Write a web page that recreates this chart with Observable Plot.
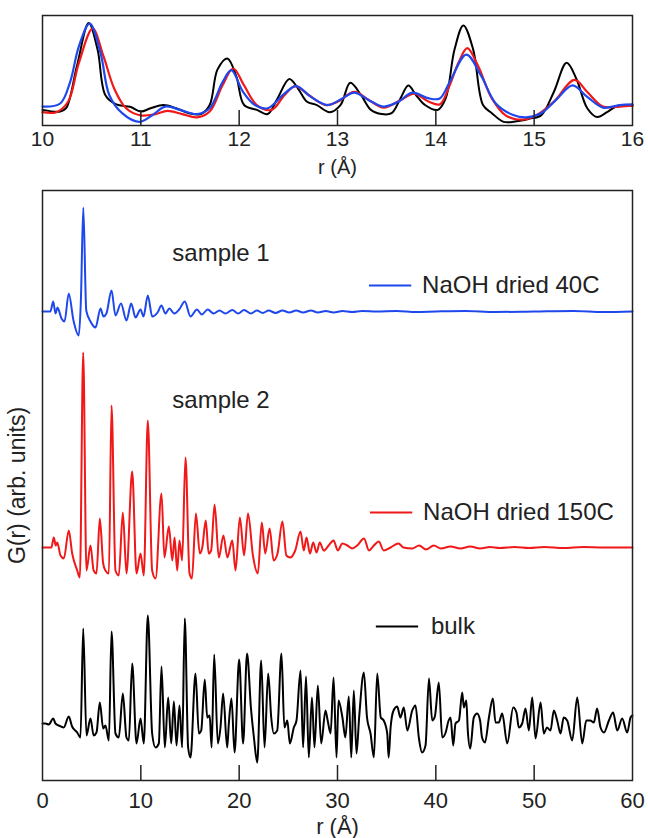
<!DOCTYPE html>
<html><head><meta charset="utf-8">
<script src="https://cdn.jsdelivr.net/npm/d3@7"></script>
<script src="https://cdn.jsdelivr.net/npm/@observablehq/plot@0.6"></script>
<style>
body{margin:0;background:#fff;}
#chart{width:648px;}
#chart svg{display:block;}
</style></head><body><div id="chart"></div>
<script>
// ---------- DATA ----------
// Inset (r from 10 to 16), values in arbitrary units
const insetBulk = [[10,14.2],[10.18,12.7],[10.24,15.7],[10.35,54],[10.47,93.2],[10.56,69],[10.64,27.5],[10.75,19.2],[10.89,17],[11.0,12.7],[11.1,15.7],[11.23,18.6],[11.36,15.7],[11.49,11.2],[11.61,10.4],[11.7,18.6],[11.78,51],[11.88,61],[11.97,45],[12.05,18.6],[12.18,14.2],[12.29,10.4],[12.39,24.6],[12.51,42.3],[12.6,33.4],[12.69,21.6],[12.79,18.6],[12.92,12.1],[13.03,18.6],[13.13,38.8],[13.24,27.5],[13.34,14.2],[13.45,10.4],[13.55,11.2],[13.64,24.6],[13.72,36.4],[13.8,27.5],[13.89,18.6],[14.02,14.2],[14.1,24.6],[14.19,69],[14.28,91],[14.38,69],[14.48,18.6],[14.57,11.2],[14.69,3.3],[14.82,3.8],[14.95,6.2],[15.07,9.2],[15.2,30.5],[15.33,57],[15.43,42.3],[15.54,15.7],[15.64,7.7],[15.75,12.7],[15.85,18],[16,18]];
const insetS2 = [[10,12.1],[10.14,12.1],[10.26,21.6],[10.37,57],[10.51,88],[10.62,63],[10.73,33.4],[10.85,15.7],[11.0,9.2],[11.15,10.4],[11.27,13.3],[11.42,10.4],[11.57,7.4],[11.7,12.7],[11.83,36.4],[11.94,51.8],[12.05,36.4],[12.18,18.6],[12.33,14.2],[12.46,27.5],[12.57,35.8],[12.71,27.5],[12.88,18.6],[13.0,21.6],[13.17,30.5],[13.32,23],[13.47,16.3],[13.64,23],[13.78,29],[13.93,21.6],[14.04,19.2],[14.14,36.4],[14.23,57],[14.32,70.4],[14.43,54],[14.57,24.6],[14.71,9.2],[14.88,5.3],[15.03,9.8],[15.2,21.6],[15.41,41.4],[15.54,30.5],[15.7,17.2],[15.87,17.2],[16,18]];
const insetS1 = [[10,17.2],[10.18,20],[10.28,39.3],[10.37,72],[10.48,92.6],[10.59,66],[10.68,27.5],[10.81,11.2],[10.98,3.3],[11.1,8.3],[11.25,17.2],[11.4,14.2],[11.57,10.4],[11.7,15.7],[11.83,39.3],[11.92,50.3],[12.04,30.5],[12.16,18.6],[12.29,15.7],[12.46,29],[12.58,35.8],[12.73,26],[12.9,18.6],[13.05,24.6],[13.17,29.9],[13.32,23],[13.47,17.2],[13.62,21.6],[13.76,29.9],[13.93,24.6],[14.04,24.6],[14.14,39.3],[14.31,64.5],[14.46,45.3],[14.61,20],[14.78,9.8],[14.92,7.4],[15.07,11.2],[15.22,23],[15.39,36.4],[15.54,26],[15.7,16.3],[15.87,18.6],[16,19.2]];
const insetTicks = [10, 11, 12, 13, 14, 15, 16];

// Main panel G(r), relative to each curve's own baseline (arb. units)
const sample1G = [[0,0],[0.8,0],[1.09,10],[1.32,-2],[1.53,4],[1.93,-7],[2.24,-10],[2.67,18],[3.15,-9],[3.69,-24],[3.9,10],[4.15,104],[4.45,1],[4.88,-10],[5.39,-16],[5.9,3],[6.2,-5],[6.5,-2],[7.02,21],[7.42,-4],[7.98,8],[8.54,-9],[9.02,8],[9.46,-6],[9.97,2],[10.27,-5],[10.71,16],[11.16,-5],[11.7,-1],[12.1,6],[12.5,-2],[12.9,3],[13.4,-2],[13.9,2],[14.47,10],[15.05,-5],[15.7,2],[16.2,-3],[16.8,2],[17.4,-2],[18.0,1],[18.6,-2],[19.3,1.5],[19.9,-2],[20.5,1.5],[21.2,-2],[21.8,1],[22.4,-1.5],[23.0,1],[23.7,-1.5],[24.4,1],[25.1,-1],[25.8,1],[26.5,-1],[27.3,1],[28.0,-1],[28.8,0.5],[29.6,-1],[30.5,0.5],[31.5,-0.5],[32.5,0.5],[34,0],[36,0.5],[38,-0.5],[40,0],[43,0.5],[46,-0.5],[50,0],[54,0.5],[57,-0.5],[60,0]];
const sample2G = [[0,0],[0.9,0],[1.15,10],[1.35,2],[1.5,5],[1.83,-8],[2.17,-11],[2.67,17],[3.02,-6],[3.53,-23],[3.8,-30],[4.14,195],[4.47,-23],[4.88,2],[5.2,-23],[5.49,-26],[5.83,29],[6.17,-16],[6.4,-23],[6.75,-26],[7.02,142],[7.42,-23],[7.76,-28],[8.17,35],[8.54,-26],[9.12,76],[9.56,-26],[9.97,-6],[10.3,-28],[10.71,127],[11.15,-23],[11.5,-31],[12.1,54],[12.4,-10],[12.85,21],[13.2,-13],[13.43,10],[13.7,-23],[13.93,7],[14.2,-13],[14.54,90],[14.95,-26],[15.2,-31],[15.6,34],[16.0,-6],[16.25,0],[16.6,27],[16.9,-6],[17.15,-3],[17.5,43],[17.93,-10],[18.4,12],[18.8,-10],[19.3,7],[19.63,-23],[20.07,30],[20.5,-8],[20.9,34],[21.4,-8],[21.9,-26],[22.3,25],[22.65,-6],[23.1,19],[23.5,-13],[23.9,-6],[24.4,26],[24.8,-8],[25.2,-10],[25.7,-3],[26.24,16],[26.57,-3],[26.85,10],[27.2,-6],[27.53,5],[27.87,-5],[28.2,5],[28.6,-3],[29.1,2],[29.6,7],[30.03,-3],[30.5,4],[31.0,2],[31.5,-1],[32.0,2],[32.7,9],[33.2,-3],[33.7,2],[34.2,6],[34.7,-3],[35.4,0],[36.2,4],[36.7,0],[37.6,-1],[38.3,2],[39.0,-2],[39.8,2],[40.5,-1],[41.5,1],[42.5,-1],[43.5,1],[44.5,-1],[45.5,0.5],[46.5,-0.5],[48,0.5],[49.5,-0.5],[51,0.5],[53,-0.5],[55,0.5],[57,0],[60,0]];
const bulkG = [[0,0],[0.3,0],[0.64,-1],[1.09,5],[1.32,0],[1.65,-2],[2.16,-4],[2.67,7],[3.01,-3],[3.53,-9],[3.86,-14],[4.14,95],[4.47,-12],[4.88,5],[5.2,-12],[5.49,-9],[5.83,21],[6.17,-5],[6.4,-2],[6.75,-17],[7.02,92],[7.42,-10],[7.76,-14],[8.17,30],[8.54,-14],[8.78,-17],[9.12,60],[9.56,-20],[9.97,5],[10.3,-20],[10.71,108],[11.15,-10],[11.49,-24],[11.83,-20],[12.1,57],[12.44,-24],[12.78,26],[13.09,-20],[13.36,22],[13.63,-22],[13.93,18],[14.2,-24],[14.47,105],[14.81,-24],[15.05,-34],[15.56,50],[15.9,-10],[16.14,-7],[16.5,44],[16.75,6],[17.0,8],[17.2,-24],[17.46,69],[17.83,-20],[18.1,-4],[18.37,30],[18.78,-24],[18.95,0],[19.22,25],[19.53,-29],[20.0,64],[20.4,-20],[20.8,70],[21.2,15],[21.5,-14],[21.84,-39],[22.24,63],[22.58,-24],[22.95,50],[23.26,6],[23.52,-10],[23.87,-7],[24.3,70],[24.6,-4],[24.9,3],[25.15,-20],[25.56,-4],[25.83,3],[26.24,53],[26.5,-24],[26.8,47],[27.08,-34],[27.4,26],[27.66,-24],[28.0,38],[28.34,-20],[28.78,13],[29.0,3],[29.3,-10],[29.6,46],[29.9,-34],[30.1,23],[30.5,6],[30.8,-14],[31.15,27],[31.4,-34],[31.66,33],[31.93,-30],[32.2,6],[32.68,51],[33.0,6],[33.36,-10],[33.7,-34],[34.04,50],[34.4,6],[34.7,3],[35.06,-10],[35.2,-34],[35.4,-4],[35.7,13],[36.07,17],[36.4,6],[36.74,16],[37.1,-7],[37.6,13],[37.93,18],[38.27,-14],[38.6,-29],[38.95,-22],[39.3,45],[39.63,3],[39.9,7],[40.3,41],[40.65,-14],[41.0,-9],[41.3,3],[41.5,6],[41.77,-22],[42.0,0],[42.35,3],[42.68,31],[42.85,16],[43.1,23],[43.25,-7],[43.5,-25],[43.86,6],[44.2,10],[44.5,3],[44.7,-14],[45.0,-19],[45.4,6],[45.8,25],[46.07,1],[46.4,1],[46.75,10],[47.26,-20],[47.87,16],[48.2,11],[48.44,-4],[48.78,0],[49.12,15],[49.46,-7],[49.8,26],[50.14,-15],[50.65,21],[50.98,-10],[51.3,-4],[51.66,-7],[52.0,13],[52.34,3],[52.68,-10],[53.0,6],[53.36,3],[53.87,-17],[54.38,26],[54.89,-20],[55.3,3],[55.7,3],[56.07,1],[56.4,15],[56.75,-4],[57.1,-9],[57.6,3],[58.03,11],[58.45,-7],[58.95,5],[59.46,-9],[59.8,6],[60,8]];
const seriesNames = ["NaOH dried 40C", "NaOH dried 150C", "bulk"];
const seriesOffsets = [412, 176, 0];
const mainTicks = [0, 10, 20, 30, 40, 50, 60];
const sampleLabels = ["sample 1", "sample 2"];

// ---------- STYLE / LAYOUT ----------
const colors = {s1: "#1f48ec", s2: "#f01818", bulk: "#000000"};
const font = "'Liberation Sans', Arial, Helvetica, sans-serif";
const W = 648, tickPx = 15;

const toRows = (arr, key, off = 0) => arr.map(([r, g]) => ({r, v: g + off, key}));

// ---------- INSET ----------
const inH = 180, inTop = 15, inBot = 55;
const inDomain = [0, 100];
const inUnit = (inDomain[1] - inDomain[0]) / (inH - inTop - inBot);
const inset = Plot.plot({
  width: W, height: inH, marginTop: inTop, marginBottom: inBot, marginLeft: 42, marginRight: 16,
  style: {fontFamily: font, fontSize: "21px", color: "#222", background: "white", overflow: "visible"},
  x: {domain: [10, 16]},
  y: {domain: inDomain, axis: null},
  marks: [
    Plot.line(toRows(insetBulk, "bulk"), {x: "r", y: "v", stroke: colors.bulk, strokeWidth: 2, curve: "catmull-rom"}),
    Plot.line(toRows(insetS2, "s2"), {x: "r", y: "v", stroke: colors.s2, strokeWidth: 2.2, curve: "catmull-rom"}),
    Plot.line(toRows(insetS1, "s1"), {x: "r", y: "v", stroke: colors.s1, strokeWidth: 2.2, curve: "catmull-rom"}),
    Plot.ruleX(insetTicks.slice(1, -1), {x: d => d, y1: inDomain[0], y2: inDomain[0] + tickPx * inUnit, stroke: "#222", strokeWidth: 1.5}),
    Plot.frame({stroke: "#222", strokeWidth: 1.5}),
    Plot.axisX({ticks: insetTicks, tickSize: 0, tickPadding: 6, tickFormat: d => String(d), label: null, fill: "#222"}),
    Plot.text(["r (Å)"], {text: d => d, frameAnchor: "bottom", lineAnchor: "middle", dy: 42, fontSize: 20, fill: "#222"})
  ]
});

// ---------- MAIN ----------
const mH = 658, mTop = 10, mBot = 58;
const mDomain = [-57, 533];
const mUnit = (mDomain[1] - mDomain[0]) / (mH - mTop - mBot);
const legendLayout = [
  {name: seriesNames[0], color: colors.s1, x1: 33.2, x2: 37.5, xt: 38.6, y: 438},
  {name: seriesNames[1], color: colors.s2, x1: 33.3, x2: 37.6, xt: 38.7, y: 211},
  {name: seriesNames[2], color: colors.bulk, x1: 33.9, x2: 38.2, xt: 39.5, y: 97}
];
const sampleLayout = [{x: 13.2, y: 470}, {x: 13.2, y: 323}];

const main = Plot.plot({
  width: W, height: mH, marginTop: mTop, marginBottom: mBot, marginLeft: 42, marginRight: 16,
  style: {fontFamily: font, fontSize: "22px", color: "#222", background: "white", overflow: "visible"},
  x: {domain: [0, 60]},
  y: {domain: mDomain, axis: null},
  marks: [
    Plot.line(toRows(sample1G, "s1", seriesOffsets[0]), {x: "r", y: "v", stroke: colors.s1, strokeWidth: 2, curve: "monotone-x"}),
    Plot.line(toRows(sample2G, "s2", seriesOffsets[1]), {x: "r", y: "v", stroke: colors.s2, strokeWidth: 2, curve: "monotone-x"}),
    Plot.line(toRows(bulkG, "bulk", seriesOffsets[2]), {x: "r", y: "v", stroke: colors.bulk, strokeWidth: 2, curve: "monotone-x"}),
    Plot.link(legendLayout, {x1: "x1", x2: "x2", y1: "y", y2: "y", stroke: "color", strokeWidth: 2}),
    Plot.text(legendLayout, {x: "xt", y: "y", text: "name", textAnchor: "start", fontSize: 24, fill: "#222"}),
    Plot.text(sampleLabels.map((t, i) => ({t, ...sampleLayout[i]})), {x: "x", y: "y", text: "t", textAnchor: "start", fontSize: 24, fill: "#222"}),
    Plot.ruleX(mainTicks.slice(1, -1), {x: d => d, y1: mDomain[0], y2: mDomain[0] + tickPx * mUnit, stroke: "#222", strokeWidth: 1.5}),
    Plot.frame({stroke: "#222", strokeWidth: 1.5}),
    Plot.axisX({ticks: mainTicks, tickSize: 0, tickPadding: 12, tickFormat: d => String(d), label: null, fill: "#222"}),
    Plot.text(["r (Å)"], {text: d => d, frameAnchor: "bottom", lineAnchor: "middle", dy: 46, fontSize: 22, fill: "#222"}),
    Plot.text(["G(r) (arb. units)"], {text: d => d, frameAnchor: "left", textAnchor: "middle", lineAnchor: "middle", dx: -25, rotate: -90, fontSize: 23, fill: "#222"})
  ]
});

document.getElementById("chart").append(inset, main);
</script></body></html>
